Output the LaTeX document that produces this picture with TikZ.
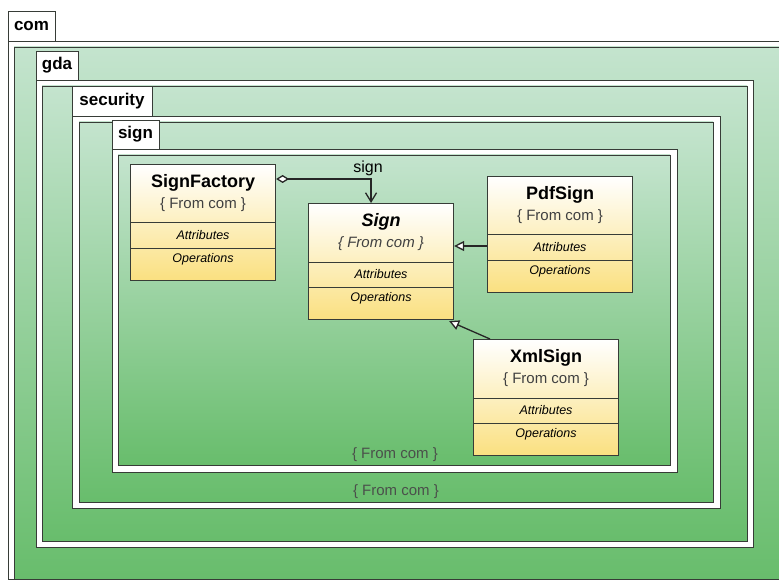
\documentclass[tikz,border=0pt]{standalone}
\usepackage{fontspec}
\setmainfont{Liberation Sans}
\usetikzlibrary{arrows.meta}
\definecolor{GT}{RGB}{196, 228, 206}
\definecolor{GB}{RGB}{104, 189, 108}
\definecolor{YB}{RGB}{250, 224, 128}
\definecolor{LN}{RGB}{55, 60, 55}

\tikzset{
  pkgtab/.style={draw=LN, fill=white, line width=0.9pt},
  pkgout/.style={draw=LN, fill=white, line width=0.9pt},
  pkgin/.style={draw=LN, top color=GT, bottom color=GB, line width=0.9pt},
  tabtext/.style={font=\bfseries\fontsize{17}{19}\selectfont, inner sep=0pt},
  fromtext/.style={font=\fontsize{15}{17}\selectfont, text=LN!90, inner sep=0pt},
  classbody/.style={draw=LN, line width=1.1pt, top color=white, bottom color=YB, anchor=north west,
    minimum width=145pt, minimum height=116pt, inner sep=0pt},
  ctitle/.style={font=\bfseries\fontsize{18}{20}\selectfont, inner sep=0pt},
  csub/.style={font=\fontsize{15}{17}\selectfont, text=black!75, inner sep=0pt},
  ccomp/.style={font=\itshape\fontsize{12.5}{14}\selectfont, inner sep=0pt},
  conn/.style={draw=black!85, line width=1.3pt},
}

% name, top left, title, subtitle
\newcommand{\umlclass}[4]{%
  \node[classbody] (#1) at (#2) {};
  \draw[LN, line width=1pt] ([yshift=-59pt]#1.north west) -- ([yshift=-59pt]#1.north east);
  \draw[LN, line width=1pt] ([yshift=-84pt]#1.north west) -- ([yshift=-84pt]#1.north east);
  \node[ctitle] (#1-t) at ([yshift=-19pt]#1.north) {#3};
  \node[csub] (#1-s) at ([yshift=-41pt]#1.north) {#4};
  \node[ccomp] (#1-a) at ([yshift=-71pt]#1.north) {Attributes};
  \node[ccomp] (#1-o) at ([yshift=-95pt]#1.north) {Operations};
}

\begin{document}
\begin{tikzpicture}[x=1pt, y=-1pt]
  \useasboundingbox (0,0) rectangle (779,580);

  %# PAQUETE com
  \draw[pkgtab] (8,11) rectangle (55,41);
  \node[tabtext] (com) at (31.5,26) {com};
  \draw[pkgout] (8,41) rectangle (782,579);
  \draw[pkgin] (14,47) rectangle (782,579);

  %# PAQUETE gda
  \draw[pkgtab] (36,51) rectangle (78,80);
  \node[tabtext] (gda) at (57,65.5) {gda};
  \draw[pkgout] (36,80) rectangle (753,547);
  \draw[pkgin] (42,86) rectangle (747,541);

  %# PAQUETE security
  \draw[pkgtab] (72,86) rectangle (152,116);
  \node[tabtext] (security) at (112,101) {security};
  \draw[pkgout] (72,116) rectangle (720,508);
  \draw[pkgin] (79,122) rectangle (713,502);
  \node[fromtext] (fromsec) at (396,492) {\{ From com \}};

  %# PAQUETE sign
  \draw[pkgtab] (112,120) rectangle (159,149);
  \node[tabtext] (signpkg) at (135.5,134.5) {sign};
  \draw[pkgout] (112,149) rectangle (677,472);
  \draw[pkgin] (118,155) rectangle (670,465);
  \node[fromtext] (fromsign) at (395,455) {\{ From com \}};

  %# CLASES
  \umlclass{sf}{130,164}{SignFactory}{\{ From com \}}
  \umlclass{sign}{308,203}{\itshape Sign}{\itshape\{ From com \}}
  \umlclass{pdf}{487,176}{PdfSign}{\{ From com \}}
  \umlclass{xml}{473,339}{XmlSign}{\{ From com \}}

  %# RELACIONES
  \draw[conn, {Diamond[open, fill=white, length=13pt, width=8pt]}-{Straight Barb[length=9pt, width=11pt]}]
    ([yshift=-15pt]sf.north east) -| ([xshift=-10pt]sign.north)
    node[pos=0.5, above=3pt, xshift=-3pt, font=\fontsize{16}{18}\selectfont, inner sep=0pt] (signlbl) {sign};
  \coordinate (pdfin) at ([yshift=-70pt]pdf.north west);
  \draw[conn, -{Triangle[open, fill=white, length=10pt, width=10pt]}]
    (pdfin) -- (pdfin -| sign.east);
  \draw[conn, -{Triangle[open, fill=white, length=10pt, width=10pt]}]
    ([xshift=17pt]xml.north west) -- ([xshift=-5pt, yshift=-1pt]sign.south east);
\end{tikzpicture}
\end{document}
